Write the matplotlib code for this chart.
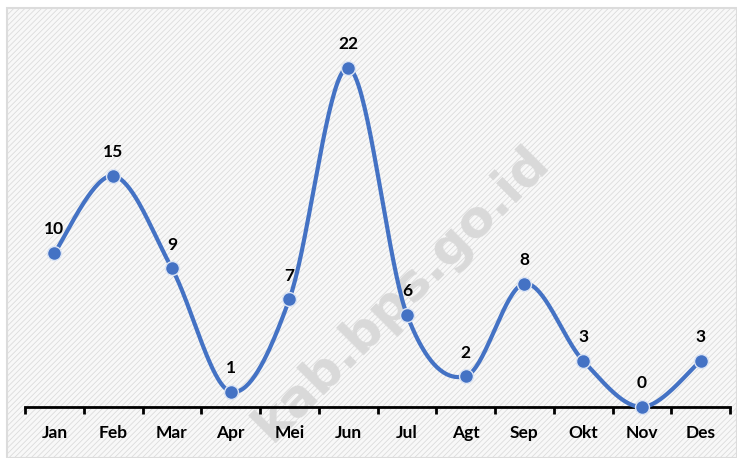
import numpy as np
import matplotlib
matplotlib.use("Agg")
import matplotlib.pyplot as plt
from matplotlib.patches import Rectangle

months = ["Jan", "Feb", "Mar", "Apr", "Mei", "Jun", "Jul", "Agt", "Sep", "Okt", "Nov", "Des"]
values = [10, 15, 9, 1, 7, 22, 6, 2, 8, 3, 0, 3]

W, H = 737, 458
plt.rcParams["hatch.color"] = "#f2f2f2"
plt.rcParams["hatch.linewidth"] = 0.6
fig = plt.figure(figsize=(W / 100, H / 100), dpi=100)
fig.patch.set_facecolor("white")

# chart area background with subtle diagonal texture
bg = Rectangle((7 / W, 0), 1 - 7 / W, 1 - 8 / H, transform=fig.transFigure,
               facecolor="#f8f8f8", edgecolor="#dcdcdc", linewidth=1.5,
               hatch="//////", zorder=-5)
fig.patches.append(bg)

# watermark
fig.text(402 / W, 1 - 294 / H, "kab.bps.go.id", rotation=45, ha="center", va="center",
         fontsize=37, fontweight="bold", family="DejaVu Sans", color="#d9d9d9",
         zorder=-1)

ax = fig.add_axes([25 / W, 1 - 407 / H, 705 / W, 377.5 / H])
ax.set_facecolor("none")
ax.set_zorder(2)

x = np.arange(len(values))
y = np.array(values, dtype=float)

# Catmull-Rom style smoothing (like Excel smoothed line)
pts = np.column_stack([x, y])
ext = np.vstack([pts[0], pts, pts[-1]])
curve = []
t = np.linspace(0, 1, 40)
for i in range(1, len(ext) - 2):
    p0, p1, p2, p3 = ext[i - 1], ext[i], ext[i + 1], ext[i + 2]
    c1 = p1 + (p2 - p0) / 6
    c2 = p2 - (p3 - p1) / 6
    seg = ((1 - t) ** 3)[:, None] * p1 + (3 * (1 - t) ** 2 * t)[:, None] * c1 \
        + (3 * (1 - t) * t ** 2)[:, None] * c2 + (t ** 3)[:, None] * p2
    curve.append(seg)
curve = np.vstack(curve)

ax.plot(curve[:, 0], curve[:, 1], color="#4472C4", linewidth=3, clip_on=False,
        solid_capstyle="round", zorder=3)
ax.plot(x, y, linestyle="none", marker="o", markersize=10, markerfacecolor="#4472C4",
        markeredgecolor="#dbe4f4", markeredgewidth=1.0, clip_on=False, zorder=4)

for xi, yi in zip(x, values):
    ax.annotate(str(yi), (xi, yi), xytext=(0, 17), textcoords="offset points",
                ha="center", va="center", fontsize=12.5, fontweight="bold",
                family="Lato", color="black")

ax.set_xlim(-0.5, len(values) - 0.5)
ax.set_ylim(0, 24.5)

for s in ["top", "right", "left"]:
    ax.spines[s].set_visible(False)
ax.spines["bottom"].set_linewidth(2)
ax.spines["bottom"].set_color("black")
ax.set_yticks([])

ax.set_xticks(np.arange(-0.5, len(values)), minor=False)
ax.set_xticklabels([])
ax.tick_params(axis="x", which="major", length=5, width=2, color="black")
ax.set_xticks(x, minor=True)
ax.set_xticklabels(months, minor=True, fontsize=12.5, fontweight="bold", family="Lato")
ax.tick_params(axis="x", which="minor", length=0, pad=13)

fig.savefig("out.png", dpi=100, facecolor="white")
